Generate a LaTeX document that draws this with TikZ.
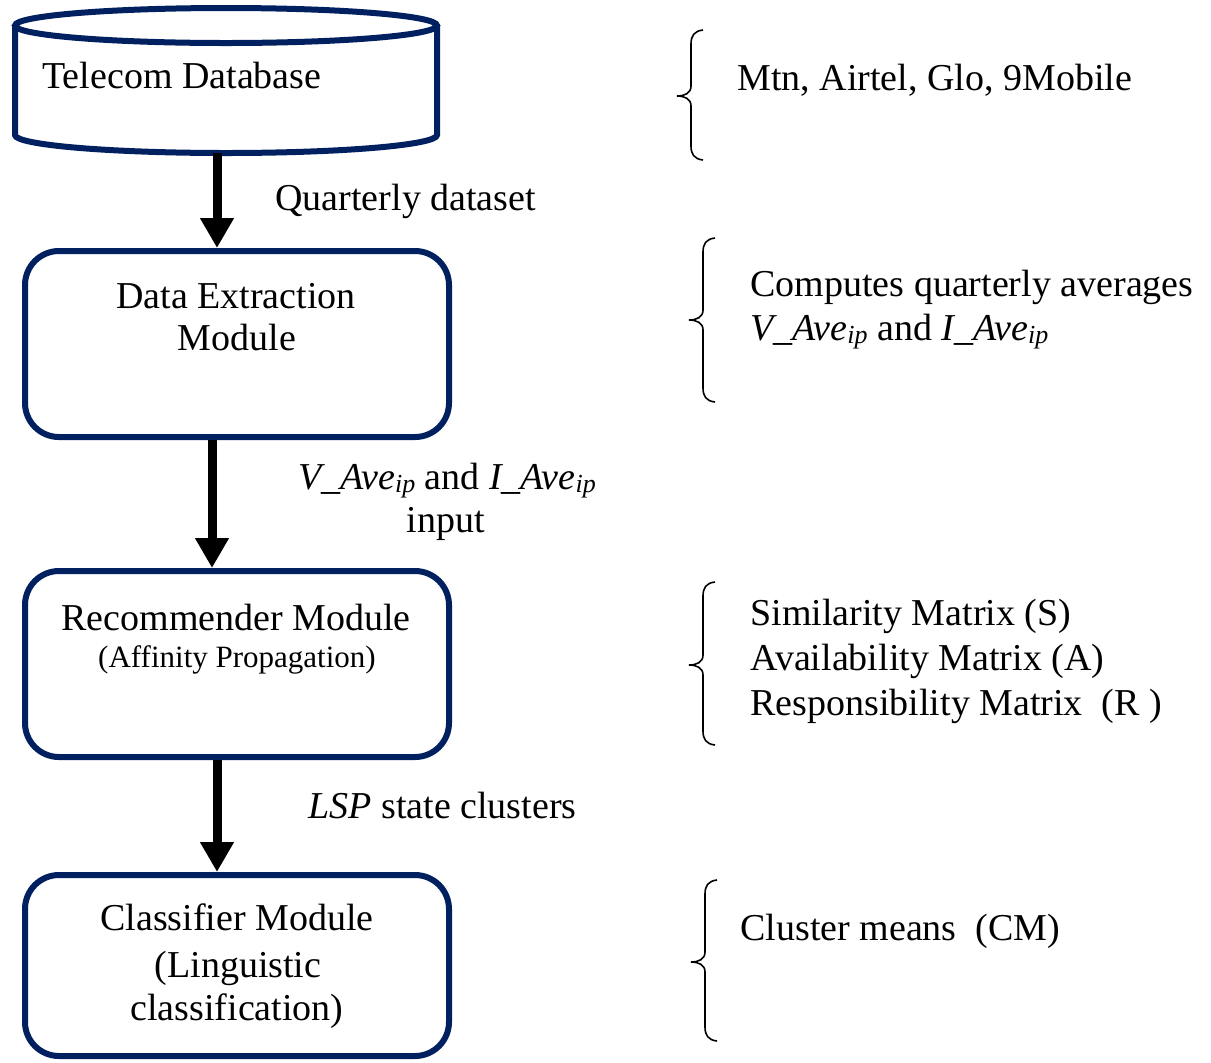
\documentclass[tikz,border=0pt]{standalone}
\usepackage{fontspec}
\setmainfont{Liberation Serif}
\usetikzlibrary{arrows.meta}
\definecolor{navy}{RGB}{0,32,96}
\newcommand\mybrace[4]{%
\draw[bracestyle] (#1+12,-#2) .. controls (#1+3,-#2-1) and (#1,-#2-6) .. (#1,-#2-14) -- (#1,-#3+10) .. controls (#1,-#3+3) and (#1-6,-#3) .. (#1-14,-#3) .. controls (#1-6,-#3) and (#1,-#3-3) .. (#1,-#3-10) -- (#1,-#4+14) .. controls (#1,-#4+6) and (#1+3,-#4+1) .. (#1+12,-#4);}
\newcommand\ipsub{\raisebox{-1.5pt}{\fontsize{13}{14}\selectfont\itshape ip}}
\begin{document}
\begin{tikzpicture}[x=0.5pt,y=0.5pt,
  box/.style={draw=navy, line width=3pt, rounded corners=17pt, minimum width=212pt, inner sep=0pt},
  cyl/.style={draw=navy, line width=3pt},
  arr/.style={draw=black, line width=4.5pt, -{Triangle[length=15pt,width=16pt]}},
  txt/.style={font=\fontsize{19}{22}\selectfont, inner sep=0pt, anchor=base},
  txtl/.style={font=\fontsize{19}{22}\selectfont, inner sep=0pt, anchor=base west},
  small/.style={font=\fontsize{15.5}{18}\selectfont, inner sep=0pt, anchor=base},
  bracestyle/.style={draw=black, line width=0.8pt}]
\useasboundingbox (0,0) rectangle (1211,-1062);
% cylinder
\path[cyl,fill=white] (15,-25.5) -- (15,-135) arc[start angle=180,end angle=360,x radius=105.5pt,y radius=9pt] -- (437,-25.5);
\draw[cyl] (226,-25.5) ellipse[x radius=105.5pt,y radius=8.75pt];
\coordinate (cylb) at (217,-153);
\node[txtl] (t1) at (42,-88) {Telecom Database};
% boxes
\node[box, minimum height=93pt] (b2) at (237,-344) {};
\node[box, minimum height=93pt] (b3) at (237,-664) {};
\node[box, minimum height=90.5pt] (b4) at (237,-965.5) {};
% box texts
\node[txt] (t2a) at (236,-308) {Data Extraction};
\node[txt] (t2b) at (237,-350) {Module};
\node[txt] (t3a) at (236,-630) {Recommender Module};
\node[small] (t3b) at (237,-667) {(Affinity Propagation)};
\node[txt] (t4a) at (237,-930) {Classifier Module};
\node[txt] (t4b) at (238,-977) {(Linguistic};
\node[txt] (t4c) at (237,-1020) {classification)};
% arrows
\draw[arr] (cylb) -- (cylb |- b2.north);
\coordinate (a2) at (212,0);
\draw[arr] (a2 |- b2.south) -- (a2 |- b3.north);
\coordinate (a3) at (217,0);
\draw[arr] (a3 |- b3.south) -- (a3 |- b4.north);
% arrow labels
\node[txtl] (l1) at (275,-210) {Quarterly dataset};
\node[txt] (l2a) at (447,-489) {\textit{V\_Ave}\ipsub{} and \textit{I\_Ave}\ipsub};
\node[txt] (l2b) at (446,-532) {input};
\node[txtl] (l3) at (308,-818) {\textit{LSP} state clusters};
% braces
\mybrace{691}{30}{96}{160}
\mybrace{703}{238}{320}{402}
\mybrace{703}{582}{665}{745}
\mybrace{705}{880}{962}{1041}
% right texts
\node[txtl] (r1) at (737,-90) {Mtn, Airtel, Glo, 9Mobile};
\node[txtl] (r2a) at (750,-296) {Computes quarterly averages};
\node[txtl] (r2b) at (750,-340) {\textit{V\_Ave}\ipsub{} and \textit{I\_Ave}\ipsub};
\node[txtl] (r3a) at (750,-625) {Similarity Matrix (S)};
\node[txtl] (r3b) at (750,-670) {Availability Matrix (A)};
\node[txtl] (r3c) at (750,-715) {Responsibility Matrix \ (R )};
\node[txtl] (r4) at (740,-940) {Cluster means \ (CM)};
\end{tikzpicture}
\end{document}
